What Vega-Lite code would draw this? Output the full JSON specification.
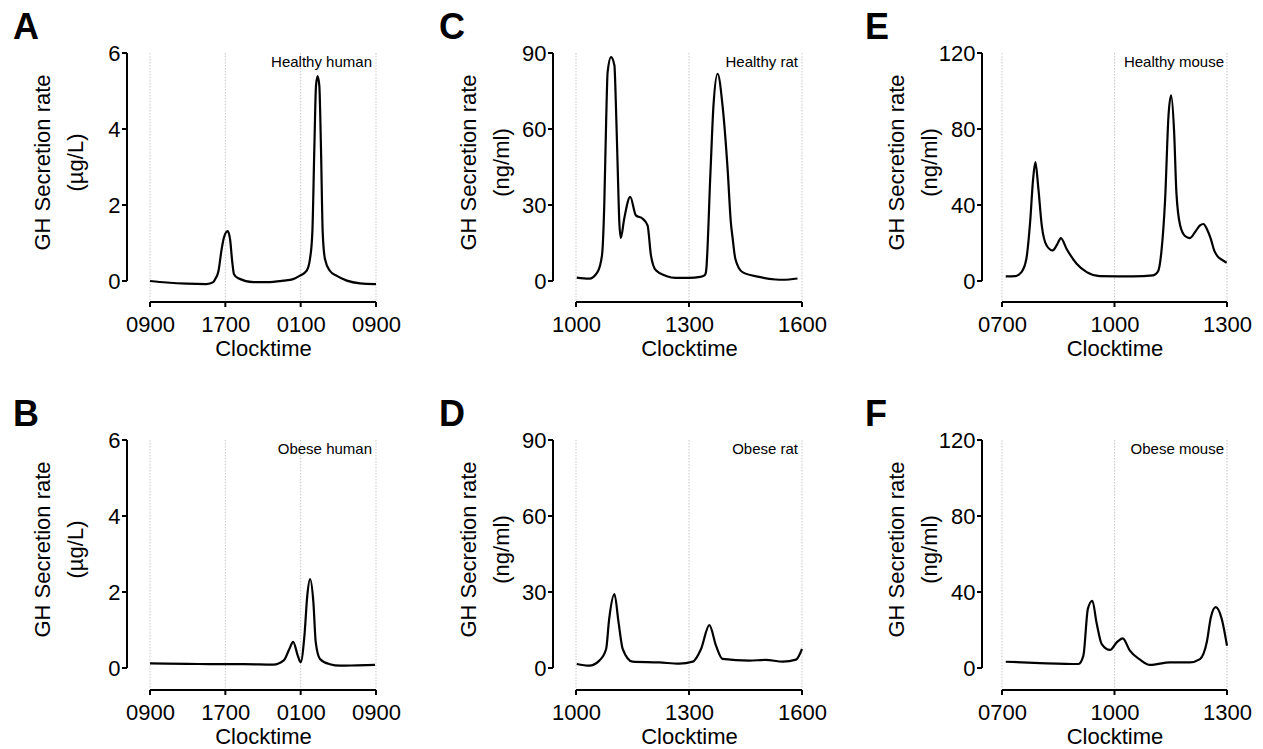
{
  "$schema": "https://vega.github.io/schema/vega-lite/v6.json",
  "padding": {"left": 13, "top": 10, "right": 5, "bottom": 5},
  "background": "white",
  "config": {
    "font": "Liberation Sans",
    "view": {"stroke": null},
    "axis": {"domain": false, "ticks": true, "tickOpacity": 0, "tickSize": 5, "labelFontSize": 22, "labelColor": "#000", "titleFontSize": 22, "titleFontWeight": "normal", "titleColor": "#000", "grid": false, "labelFlush": false, "labelOverlap": false},
    "axisX": {"labelPadding": 7, "titlePadding": 3},
    "axisY": {"labelPadding": 2, "titleLineHeight": 33},
    "title": {"fontSize": 36, "fontWeight": "bold", "anchor": "start", "frame": "group", "color": "#000", "dx": -137, "offset": -5}
  },
  "datasets": {
    "A": [{"t":9,"v":0},{"t":10.77,"v":-0.04},{"t":12.9,"v":-0.07},{"t":15.0,"v":-0.08},{"t":15.72,"v":-0.03},{"t":15.9,"v":0.04},{"t":16.26,"v":0.25},{"t":16.61,"v":0.84},{"t":16.86,"v":1.15},{"t":17.25,"v":1.31},{"t":17.5,"v":1.1},{"t":17.74,"v":0.49},{"t":17.92,"v":0.18},{"t":18.38,"v":0.07},{"t":19.97,"v":-0.03},{"t":21.4,"v":-0.03},{"t":23.16,"v":0.01},{"t":24.2,"v":0.05},{"t":24.93,"v":0.14},{"t":25.64,"v":0.27},{"t":25.99,"v":0.58},{"t":26.24,"v":1.28},{"t":26.45,"v":3.47},{"t":26.63,"v":5.14},{"t":26.8,"v":5.39},{"t":26.98,"v":5.14},{"t":27.16,"v":3.47},{"t":27.34,"v":1.28},{"t":27.58,"v":0.58},{"t":28.1,"v":0.27},{"t":28.8,"v":0.14},{"t":29.9,"v":0.01},{"t":31.3,"v":-0.06},{"t":33,"v":-0.08}],
    "B": [{"t":9,"v":0.12},{"t":13,"v":0.11},{"t":16.1,"v":0.1},{"t":19,"v":0.1},{"t":22.1,"v":0.09},{"t":23.2,"v":0.2},{"t":23.8,"v":0.5},{"t":24.2,"v":0.69},{"t":24.7,"v":0.32},{"t":25.0,"v":0.15},{"t":25.4,"v":0.85},{"t":25.7,"v":1.9},{"t":26.0,"v":2.34},{"t":26.35,"v":1.73},{"t":26.6,"v":0.68},{"t":27.05,"v":0.24},{"t":28.1,"v":0.1},{"t":29.2,"v":0.06},{"t":31,"v":0.07},{"t":32.9,"v":0.08}],
    "C": [{"t":10.02,"v":1.3},{"t":10.35,"v":0.9},{"t":10.57,"v":3.5},{"t":10.69,"v":10.1},{"t":10.75,"v":29.8},{"t":10.8,"v":62.8},{"t":10.84,"v":82.5},{"t":10.93,"v":88.4},{"t":11.02,"v":85.1},{"t":11.06,"v":69.3},{"t":11.11,"v":43},{"t":11.15,"v":23.3},{"t":11.19,"v":17},{"t":11.28,"v":24.6},{"t":11.44,"v":33.2},{"t":11.59,"v":25.9},{"t":11.77,"v":24.6},{"t":11.9,"v":22},{"t":11.99,"v":10.1},{"t":12.12,"v":4.2},{"t":12.39,"v":2},{"t":12.65,"v":1.2},{"t":13.0,"v":1.2},{"t":13.3,"v":1.6},{"t":13.41,"v":2.2},{"t":13.45,"v":3.5},{"t":13.57,"v":43},{"t":13.65,"v":69.3},{"t":13.76,"v":81.8},{"t":13.89,"v":69.3},{"t":14.03,"v":43},{"t":14.11,"v":23.3},{"t":14.16,"v":16.7},{"t":14.23,"v":8.8},{"t":14.42,"v":3.5},{"t":14.86,"v":1.6},{"t":15.3,"v":0.6},{"t":15.5,"v":0.5},{"t":15.88,"v":1.0}],
    "D": [{"t":10.02,"v":1.6},{"t":10.35,"v":0.9},{"t":10.62,"v":2.9},{"t":10.8,"v":7.5},{"t":10.88,"v":19.3},{"t":11.02,"v":29.2},{"t":11.13,"v":18},{"t":11.24,"v":7.5},{"t":11.5,"v":2.5},{"t":12.21,"v":2.2},{"t":12.74,"v":1.7},{"t":13.1,"v":2.5},{"t":13.32,"v":7.5},{"t":13.54,"v":16.9},{"t":13.72,"v":8.7},{"t":13.89,"v":3.6},{"t":14.6,"v":2.9},{"t":15.04,"v":3.2},{"t":15.49,"v":2.5},{"t":15.84,"v":3.3},{"t":16.0,"v":7.5}],
    "E": [{"t":7.1,"v":2.4},{"t":7.35,"v":2.6},{"t":7.52,"v":4.7},{"t":7.65,"v":11.7},{"t":7.75,"v":31},{"t":7.83,"v":53.8},{"t":7.89,"v":62.6},{"t":7.97,"v":48.6},{"t":8.06,"v":29.3},{"t":8.19,"v":18.7},{"t":8.35,"v":16.1},{"t":8.48,"v":19.6},{"t":8.57,"v":22.6},{"t":8.72,"v":17},{"t":8.99,"v":9.1},{"t":9.26,"v":4.7},{"t":9.61,"v":2.6},{"t":10.5,"v":2.4},{"t":11.03,"v":3},{"t":11.16,"v":5},{"t":11.25,"v":15.3},{"t":11.35,"v":43},{"t":11.44,"v":87},{"t":11.51,"v":97.7},{"t":11.59,"v":78.4},{"t":11.65,"v":46.8},{"t":11.75,"v":29.3},{"t":11.88,"v":23.7},{"t":12.01,"v":22.6},{"t":12.15,"v":25.8},{"t":12.28,"v":29.3},{"t":12.37,"v":30.0},{"t":12.46,"v":27.5},{"t":12.57,"v":22},{"t":12.66,"v":16},{"t":12.75,"v":13},{"t":12.86,"v":11.2},{"t":12.99,"v":9.6}],
    "F": [{"t":7.1,"v":3.3},{"t":8.01,"v":2.6},{"t":9.04,"v":2.1},{"t":9.17,"v":6.5},{"t":9.29,"v":31.1},{"t":9.41,"v":35.4},{"t":9.52,"v":24},{"t":9.66,"v":12.6},{"t":9.88,"v":9.5},{"t":10.06,"v":13.5},{"t":10.22,"v":15.6},{"t":10.41,"v":9.1},{"t":10.68,"v":4.4},{"t":10.95,"v":1.6},{"t":11.48,"v":3},{"t":12.01,"v":3},{"t":12.28,"v":4.7},{"t":12.46,"v":13.5},{"t":12.57,"v":26.7},{"t":12.7,"v":32},{"t":12.86,"v":25.8},{"t":13.0,"v":11.7}],
    "gHuman": [{"t":9},{"t":17},{"t":25},{"t":33}],
    "gRat": [{"t":10},{"t":13},{"t":16}],
    "gMouse": [{"t":7},{"t":10},{"t":13}],
    "yHuman": [{"v":0},{"v":2},{"v":4},{"v":6}],
    "yRat": [{"v":0},{"v":30},{"v":60},{"v":90}],
    "yMouse": [{"v":0},{"v":40},{"v":80},{"v":120}]
  },
  "columns": 3,
  "spacing": {"row": 159, "column": 200},
  "bounds": "flush",
  "concat": [
    {
      "width": 226, "height": 228,
      "title": {"text": "A"},
      "resolve": {"axis": {"x": "independent", "y": "independent"}},
      "layer": [
        {"data": {"name": "gHuman"}, "mark": {"type": "rule", "color": "#c8c8c8", "strokeDash": [1.5, 1.5], "strokeWidth": 1, "clip": false},
         "encoding": {"x": {"field": "t", "type": "quantitative", "axis": null, "scale": {"domain": [9, 33], "nice": false}}, "y": {"datum": 6, "type": "quantitative", "axis": null, "scale": {"domain": [0, 6], "nice": false}}, "y2": {"datum": -0.5526}}},
        {"data": {"name": "gHuman"}, "mark": {"type": "line", "color": "#000", "strokeWidth": 2, "interpolate": "linear", "clip": false}, "encoding": {"x": {"field": "t", "type": "quantitative", "axis": null}, "y": {"datum": -0.5526, "type": "quantitative", "axis": null}}},
        {"data": {"name": "gHuman"}, "mark": {"type": "tick", "orient": "vertical", "size": 5, "thickness": 2, "color": "#000", "opacity": 1, "clip": false}, "encoding": {"x": {"field": "t", "type": "quantitative", "axis": null}, "y": {"datum": -0.6184, "type": "quantitative", "axis": null}}},
        {"data": {"name": "yHuman"}, "mark": {"type": "line", "color": "#000", "strokeWidth": 2, "interpolate": "linear", "clip": false}, "encoding": {"x": {"datum": 6.5575, "type": "quantitative", "axis": null}, "y": {"field": "v", "type": "quantitative", "axis": null}}},
        {"data": {"name": "yHuman"}, "mark": {"type": "tick", "orient": "horizontal", "size": 5, "thickness": 2, "color": "#000", "opacity": 1, "clip": false}, "encoding": {"y": {"field": "v", "type": "quantitative", "axis": null}, "x": {"datum": 6.292, "type": "quantitative", "axis": null}}},
        {"data": {"name": "A"}, "mark": {"type": "line", "interpolate": "monotone", "color": "#000", "strokeWidth": 2.2, "clip": false},
         "encoding": {
           "x": {"field": "t", "type": "quantitative", "scale": {"domain": [9, 33], "nice": false}, "axis": {"orient": "bottom", "values": [9, 17, 25, 33], "offset": 21, "title": "Clocktime", "labelExpr": "pad(toString((datum.value % 24) * 100), 4, '0', 'left')"}},
           "y": {"field": "v", "type": "quantitative", "scale": {"domain": [0, 6], "nice": false}, "axis": {"orient": "left", "values": [0, 2, 4, 6], "offset": 23, "title": ["GH Secretion rate", "(µg/L)"], "titleX": -85, "titleY": 109, "titleBaseline": "middle", "titleAlign": "center"}}
         }},
        {"data": {"values": [{"label": "Healthy human"}]}, "mark": {"type": "text", "align": "right", "baseline": "top", "dx": -4, "dy": 2, "fontSize": 15, "color": "#000"},
         "encoding": {"x": {"datum": 33, "type": "quantitative", "axis": null}, "y": {"datum": 6, "type": "quantitative", "axis": null}, "text": {"field": "label"}}}
      ]
    },
    {
      "width": 226, "height": 228,
      "title": {"text": "C"},
      "resolve": {"axis": {"x": "independent", "y": "independent"}},
      "layer": [
        {"data": {"name": "gRat"}, "mark": {"type": "rule", "color": "#c8c8c8", "strokeDash": [1.5, 1.5], "strokeWidth": 1, "clip": false},
         "encoding": {"x": {"field": "t", "type": "quantitative", "axis": null, "scale": {"domain": [10, 16], "nice": false}}, "y": {"datum": 90, "type": "quantitative", "axis": null, "scale": {"domain": [0, 90], "nice": false}}, "y2": {"datum": -8.2895}}},
        {"data": {"name": "gRat"}, "mark": {"type": "line", "color": "#000", "strokeWidth": 2, "interpolate": "linear", "clip": false}, "encoding": {"x": {"field": "t", "type": "quantitative", "axis": null}, "y": {"datum": -8.2895, "type": "quantitative", "axis": null}}},
        {"data": {"name": "gRat"}, "mark": {"type": "tick", "orient": "vertical", "size": 5, "thickness": 2, "color": "#000", "opacity": 1, "clip": false}, "encoding": {"x": {"field": "t", "type": "quantitative", "axis": null}, "y": {"datum": -9.2763, "type": "quantitative", "axis": null}}},
        {"data": {"name": "yRat"}, "mark": {"type": "line", "color": "#000", "strokeWidth": 2, "interpolate": "linear", "clip": false}, "encoding": {"x": {"datum": 9.3894, "type": "quantitative", "axis": null}, "y": {"field": "v", "type": "quantitative", "axis": null}}},
        {"data": {"name": "yRat"}, "mark": {"type": "tick", "orient": "horizontal", "size": 5, "thickness": 2, "color": "#000", "opacity": 1, "clip": false}, "encoding": {"y": {"field": "v", "type": "quantitative", "axis": null}, "x": {"datum": 9.323, "type": "quantitative", "axis": null}}},
        {"data": {"name": "C"}, "mark": {"type": "line", "interpolate": "monotone", "color": "#000", "strokeWidth": 2.2, "clip": false},
         "encoding": {
           "x": {"field": "t", "type": "quantitative", "scale": {"domain": [10, 16], "nice": false}, "axis": {"orient": "bottom", "values": [10, 13, 16], "offset": 21, "title": "Clocktime", "labelExpr": "pad(toString((datum.value % 24) * 100), 4, '0', 'left')"}},
           "y": {"field": "v", "type": "quantitative", "scale": {"domain": [0, 90], "nice": false}, "axis": {"orient": "left", "values": [0, 30, 60, 90], "offset": 23, "title": ["GH Secretion rate", "(ng/ml)"], "titleX": -85, "titleY": 109, "titleBaseline": "middle", "titleAlign": "center"}}
         }},
        {"data": {"values": [{"label": "Healthy rat"}]}, "mark": {"type": "text", "align": "right", "baseline": "top", "dx": -4, "dy": 2, "fontSize": 15, "color": "#000"},
         "encoding": {"x": {"datum": 16, "type": "quantitative", "axis": null}, "y": {"datum": 90, "type": "quantitative", "axis": null}, "text": {"field": "label"}}}
      ]
    },
    {
      "width": 225, "height": 228,
      "title": {"text": "E"},
      "resolve": {"axis": {"x": "independent", "y": "independent"}},
      "layer": [
        {"data": {"name": "gMouse"}, "mark": {"type": "rule", "color": "#c8c8c8", "strokeDash": [1.5, 1.5], "strokeWidth": 1, "clip": false},
         "encoding": {"x": {"field": "t", "type": "quantitative", "axis": null, "scale": {"domain": [7, 13], "nice": false}}, "y": {"datum": 120, "type": "quantitative", "axis": null, "scale": {"domain": [0, 120], "nice": false}}, "y2": {"datum": -11.0526}}},
        {"data": {"name": "gMouse"}, "mark": {"type": "line", "color": "#000", "strokeWidth": 2, "interpolate": "linear", "clip": false}, "encoding": {"x": {"field": "t", "type": "quantitative", "axis": null}, "y": {"datum": -11.0526, "type": "quantitative", "axis": null}}},
        {"data": {"name": "gMouse"}, "mark": {"type": "tick", "orient": "vertical", "size": 5, "thickness": 2, "color": "#000", "opacity": 1, "clip": false}, "encoding": {"x": {"field": "t", "type": "quantitative", "axis": null}, "y": {"datum": -12.3684, "type": "quantitative", "axis": null}}},
        {"data": {"name": "yMouse"}, "mark": {"type": "line", "color": "#000", "strokeWidth": 2, "interpolate": "linear", "clip": false}, "encoding": {"x": {"datum": 6.4667, "type": "quantitative", "axis": null}, "y": {"field": "v", "type": "quantitative", "axis": null}}},
        {"data": {"name": "yMouse"}, "mark": {"type": "tick", "orient": "horizontal", "size": 5, "thickness": 2, "color": "#000", "opacity": 1, "clip": false}, "encoding": {"y": {"field": "v", "type": "quantitative", "axis": null}, "x": {"datum": 6.4, "type": "quantitative", "axis": null}}},
        {"data": {"name": "E"}, "mark": {"type": "line", "interpolate": "monotone", "color": "#000", "strokeWidth": 2.2, "clip": false},
         "encoding": {
           "x": {"field": "t", "type": "quantitative", "scale": {"domain": [7, 13], "nice": false}, "axis": {"orient": "bottom", "values": [7, 10, 13], "offset": 21, "title": "Clocktime", "labelExpr": "pad(toString((datum.value % 24) * 100), 4, '0', 'left')"}},
           "y": {"field": "v", "type": "quantitative", "scale": {"domain": [0, 120], "nice": false}, "axis": {"orient": "left", "values": [0, 40, 80, 120], "offset": 20, "title": ["GH Secretion rate", "(ng/ml)"], "titleX": -86, "titleY": 109, "titleBaseline": "middle", "titleAlign": "center"}}
         }},
        {"data": {"values": [{"label": "Healthy mouse"}]}, "mark": {"type": "text", "align": "right", "baseline": "top", "dx": -3, "dy": 2, "fontSize": 15, "color": "#000"},
         "encoding": {"x": {"datum": 13, "type": "quantitative", "axis": null}, "y": {"datum": 120, "type": "quantitative", "axis": null}, "text": {"field": "label"}}}
      ]
    },
    {
      "width": 226, "height": 228,
      "title": {"text": "B"},
      "resolve": {"axis": {"x": "independent", "y": "independent"}},
      "layer": [
        {"data": {"name": "gHuman"}, "mark": {"type": "rule", "color": "#c8c8c8", "strokeDash": [1.5, 1.5], "strokeWidth": 1, "clip": false},
         "encoding": {"x": {"field": "t", "type": "quantitative", "axis": null, "scale": {"domain": [9, 33], "nice": false}}, "y": {"datum": 6, "type": "quantitative", "axis": null, "scale": {"domain": [0, 6], "nice": false}}, "y2": {"datum": -0.5789}}},
        {"data": {"name": "gHuman"}, "mark": {"type": "line", "color": "#000", "strokeWidth": 2, "interpolate": "linear", "clip": false}, "encoding": {"x": {"field": "t", "type": "quantitative", "axis": null}, "y": {"datum": -0.5789, "type": "quantitative", "axis": null}}},
        {"data": {"name": "gHuman"}, "mark": {"type": "tick", "orient": "vertical", "size": 5, "thickness": 2, "color": "#000", "opacity": 1, "clip": false}, "encoding": {"x": {"field": "t", "type": "quantitative", "axis": null}, "y": {"datum": -0.6447, "type": "quantitative", "axis": null}}},
        {"data": {"name": "yHuman"}, "mark": {"type": "line", "color": "#000", "strokeWidth": 2, "interpolate": "linear", "clip": false}, "encoding": {"x": {"datum": 6.5575, "type": "quantitative", "axis": null}, "y": {"field": "v", "type": "quantitative", "axis": null}}},
        {"data": {"name": "yHuman"}, "mark": {"type": "tick", "orient": "horizontal", "size": 5, "thickness": 2, "color": "#000", "opacity": 1, "clip": false}, "encoding": {"y": {"field": "v", "type": "quantitative", "axis": null}, "x": {"datum": 6.292, "type": "quantitative", "axis": null}}},
        {"data": {"name": "B"}, "mark": {"type": "line", "interpolate": "monotone", "color": "#000", "strokeWidth": 2.2, "clip": false},
         "encoding": {
           "x": {"field": "t", "type": "quantitative", "scale": {"domain": [9, 33], "nice": false}, "axis": {"orient": "bottom", "values": [9, 17, 25, 33], "offset": 22, "title": "Clocktime", "labelExpr": "pad(toString((datum.value % 24) * 100), 4, '0', 'left')"}},
           "y": {"field": "v", "type": "quantitative", "scale": {"domain": [0, 6], "nice": false}, "axis": {"orient": "left", "values": [0, 2, 4, 6], "offset": 23, "title": ["GH Secretion rate", "(µg/L)"], "titleX": -85, "titleY": 109, "titleBaseline": "middle", "titleAlign": "center"}}
         }},
        {"data": {"values": [{"label": "Obese human"}]}, "mark": {"type": "text", "align": "right", "baseline": "top", "dx": -4, "dy": 2, "fontSize": 15, "color": "#000"},
         "encoding": {"x": {"datum": 33, "type": "quantitative", "axis": null}, "y": {"datum": 6, "type": "quantitative", "axis": null}, "text": {"field": "label"}}}
      ]
    },
    {
      "width": 226, "height": 228,
      "title": {"text": "D"},
      "resolve": {"axis": {"x": "independent", "y": "independent"}},
      "layer": [
        {"data": {"name": "gRat"}, "mark": {"type": "rule", "color": "#c8c8c8", "strokeDash": [1.5, 1.5], "strokeWidth": 1, "clip": false},
         "encoding": {"x": {"field": "t", "type": "quantitative", "axis": null, "scale": {"domain": [10, 16], "nice": false}}, "y": {"datum": 90, "type": "quantitative", "axis": null, "scale": {"domain": [0, 90], "nice": false}}, "y2": {"datum": -8.6842}}},
        {"data": {"name": "gRat"}, "mark": {"type": "line", "color": "#000", "strokeWidth": 2, "interpolate": "linear", "clip": false}, "encoding": {"x": {"field": "t", "type": "quantitative", "axis": null}, "y": {"datum": -8.6842, "type": "quantitative", "axis": null}}},
        {"data": {"name": "gRat"}, "mark": {"type": "tick", "orient": "vertical", "size": 5, "thickness": 2, "color": "#000", "opacity": 1, "clip": false}, "encoding": {"x": {"field": "t", "type": "quantitative", "axis": null}, "y": {"datum": -9.6711, "type": "quantitative", "axis": null}}},
        {"data": {"name": "yRat"}, "mark": {"type": "line", "color": "#000", "strokeWidth": 2, "interpolate": "linear", "clip": false}, "encoding": {"x": {"datum": 9.3894, "type": "quantitative", "axis": null}, "y": {"field": "v", "type": "quantitative", "axis": null}}},
        {"data": {"name": "yRat"}, "mark": {"type": "tick", "orient": "horizontal", "size": 5, "thickness": 2, "color": "#000", "opacity": 1, "clip": false}, "encoding": {"y": {"field": "v", "type": "quantitative", "axis": null}, "x": {"datum": 9.323, "type": "quantitative", "axis": null}}},
        {"data": {"name": "D"}, "mark": {"type": "line", "interpolate": "monotone", "color": "#000", "strokeWidth": 2.2, "clip": false},
         "encoding": {
           "x": {"field": "t", "type": "quantitative", "scale": {"domain": [10, 16], "nice": false}, "axis": {"orient": "bottom", "values": [10, 13, 16], "offset": 22, "title": "Clocktime", "labelExpr": "pad(toString((datum.value % 24) * 100), 4, '0', 'left')"}},
           "y": {"field": "v", "type": "quantitative", "scale": {"domain": [0, 90], "nice": false}, "axis": {"orient": "left", "values": [0, 30, 60, 90], "offset": 23, "title": ["GH Secretion rate", "(ng/ml)"], "titleX": -85, "titleY": 109, "titleBaseline": "middle", "titleAlign": "center"}}
         }},
        {"data": {"values": [{"label": "Obese rat"}]}, "mark": {"type": "text", "align": "right", "baseline": "top", "dx": -4, "dy": 2, "fontSize": 15, "color": "#000"},
         "encoding": {"x": {"datum": 16, "type": "quantitative", "axis": null}, "y": {"datum": 90, "type": "quantitative", "axis": null}, "text": {"field": "label"}}}
      ]
    },
    {
      "width": 225, "height": 228,
      "title": {"text": "F"},
      "resolve": {"axis": {"x": "independent", "y": "independent"}},
      "layer": [
        {"data": {"name": "gMouse"}, "mark": {"type": "rule", "color": "#c8c8c8", "strokeDash": [1.5, 1.5], "strokeWidth": 1, "clip": false},
         "encoding": {"x": {"field": "t", "type": "quantitative", "axis": null, "scale": {"domain": [7, 13], "nice": false}}, "y": {"datum": 120, "type": "quantitative", "axis": null, "scale": {"domain": [0, 120], "nice": false}}, "y2": {"datum": -11.5789}}},
        {"data": {"name": "gMouse"}, "mark": {"type": "line", "color": "#000", "strokeWidth": 2, "interpolate": "linear", "clip": false}, "encoding": {"x": {"field": "t", "type": "quantitative", "axis": null}, "y": {"datum": -11.5789, "type": "quantitative", "axis": null}}},
        {"data": {"name": "gMouse"}, "mark": {"type": "tick", "orient": "vertical", "size": 5, "thickness": 2, "color": "#000", "opacity": 1, "clip": false}, "encoding": {"x": {"field": "t", "type": "quantitative", "axis": null}, "y": {"datum": -12.8947, "type": "quantitative", "axis": null}}},
        {"data": {"name": "yMouse"}, "mark": {"type": "line", "color": "#000", "strokeWidth": 2, "interpolate": "linear", "clip": false}, "encoding": {"x": {"datum": 6.4667, "type": "quantitative", "axis": null}, "y": {"field": "v", "type": "quantitative", "axis": null}}},
        {"data": {"name": "yMouse"}, "mark": {"type": "tick", "orient": "horizontal", "size": 5, "thickness": 2, "color": "#000", "opacity": 1, "clip": false}, "encoding": {"y": {"field": "v", "type": "quantitative", "axis": null}, "x": {"datum": 6.4, "type": "quantitative", "axis": null}}},
        {"data": {"name": "F"}, "mark": {"type": "line", "interpolate": "monotone", "color": "#000", "strokeWidth": 2.2, "clip": false},
         "encoding": {
           "x": {"field": "t", "type": "quantitative", "scale": {"domain": [7, 13], "nice": false}, "axis": {"orient": "bottom", "values": [7, 10, 13], "offset": 22, "title": "Clocktime", "labelExpr": "pad(toString((datum.value % 24) * 100), 4, '0', 'left')"}},
           "y": {"field": "v", "type": "quantitative", "scale": {"domain": [0, 120], "nice": false}, "axis": {"orient": "left", "values": [0, 40, 80, 120], "offset": 20, "title": ["GH Secretion rate", "(ng/ml)"], "titleX": -86, "titleY": 109, "titleBaseline": "middle", "titleAlign": "center"}}
         }},
        {"data": {"values": [{"label": "Obese mouse"}]}, "mark": {"type": "text", "align": "right", "baseline": "top", "dx": -3, "dy": 2, "fontSize": 15, "color": "#000"},
         "encoding": {"x": {"datum": 13, "type": "quantitative", "axis": null}, "y": {"datum": 120, "type": "quantitative", "axis": null}, "text": {"field": "label"}}}
      ]
    }
  ]
}
